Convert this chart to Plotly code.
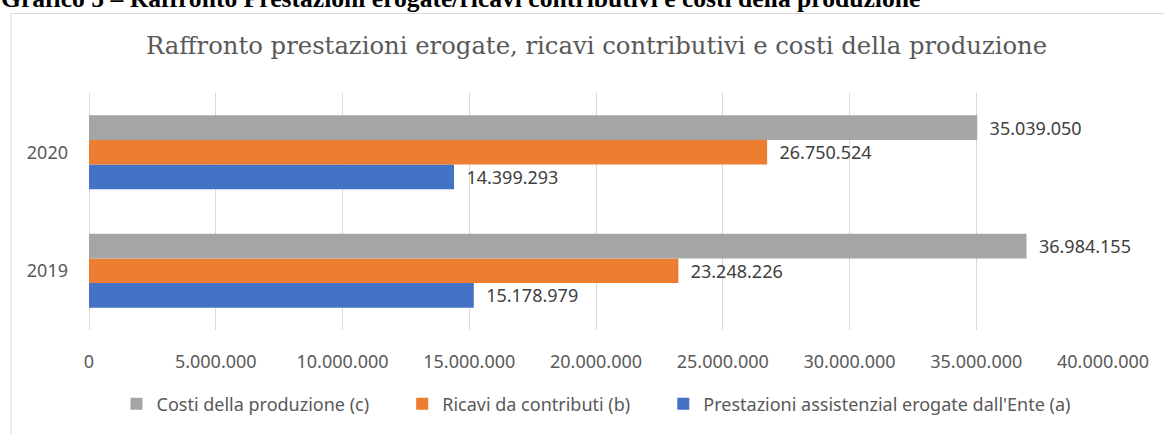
import plotly.graph_objects as go

years = ["2019", "2020"]
prestazioni = [15178979, 14399293]
ricavi = [23248226, 26750524]
costi = [36984155, 35039050]

series_names = [
    "Prestazioni assistenzial erogate dall'Ente (a)",
    "Ricavi da contributi (b)",
    "Costi della produzione (c)",
]
series_values = [prestazioni, ricavi, costi]
series_colors = ["#4472C4", "#ED7D31", "#A5A5A5"]

heading = "Grafico 5 – Raffronto Prestazioni erogate/ricavi contributivi e costi della produzione"
chart_title = "Raffronto prestazioni erogate, ricavi contributivi e costi della produzione"

SANS = "Noto Sans"
PAD = "\u00a0" * 6

fig = go.Figure()
for i, (name, vals, col) in enumerate(zip(series_names, series_values, series_colors)):
    fig.add_trace(go.Bar(
        y=years, x=vals, name=name + (PAD if i > 0 else ""), orientation="h",
        marker=dict(color=col, line=dict(width=0)),
        texttemplate="\u00a0\u00a0%{x:,}",
        textposition="outside",
        textfont=dict(family=SANS, size=18, color="#404040"),
        constraintext="none",
        cliponaxis=False,
        hoverinfo="skip",
    ))

L, R, T, B = 89, 61, 93, 101
W, H = 1164, 434
pw, ph = W - L - R, H - T - B

def px_x(p):
    return (p - L) / pw

def px_y(p):
    return 1 - (p - T) / ph

fig.update_layout(
    width=W, height=H,
    margin=dict(l=L, r=R, t=T, b=B, pad=0),
    paper_bgcolor="white", plot_bgcolor="white",
    separators=",.",
    barmode="group", bargap=0.375, bargroupgap=0,
    showlegend=True,
    legend=dict(
        orientation="h", x=0.5, xanchor="center", y=px_y(408), yanchor="middle",
        traceorder="reversed", font=dict(family=SANS, size=18, color="#595959"),
        itemwidth=30, bgcolor="rgba(0,0,0,0)",
    ),
    xaxis=dict(
        range=[0, 40000000], dtick=5000000, tick0=0, tickformat=",",
        showgrid=True, gridcolor="#D9D9D9", gridwidth=1,
        zeroline=True, zerolinecolor="#D9D9D9", zerolinewidth=1,
        showline=False, ticks="", ticklabelstandoff=19,
        tickfont=dict(family=SANS, size=18, color="#595959"),
        fixedrange=True,
    ),
    yaxis=dict(
        type="category", categoryorder="array", categoryarray=years,
        showgrid=False, zeroline=False, showline=False, ticks="",
        ticklabelstandoff=20,
        tickfont=dict(family=SANS, size=18, color="#595959"),
        fixedrange=True,
    ),
    annotations=[
        dict(text=chart_title, xref="paper", yref="paper", x=0.5, xanchor="center",
             y=px_y(45), yanchor="middle", showarrow=False,
             font=dict(family="DejaVu Serif", size=24.3, color="#595959")),
        dict(text="<b>" + heading + "</b>", xref="paper", yref="paper", x=px_x(-1),
             xanchor="left", y=px_y(14), yanchor="bottom", showarrow=False,
             font=dict(family="Liberation Serif", size=25.6, color="#000000")),
    ],
    shapes=[
        dict(type="rect", xref="paper", yref="paper",
             x0=px_x(11), x1=1.3, y0=-0.8, y1=px_y(12.5),
             line=dict(color="#D9D9D9", width=1), fillcolor="rgba(0,0,0,0)", layer="below"),
    ],
)

fig.write_html(
    "out.html",
    config={"displayModeBar": False, "staticPlot": True},
    post_script="document.body.style.margin='0';document.body.style.overflow='hidden';",
)
